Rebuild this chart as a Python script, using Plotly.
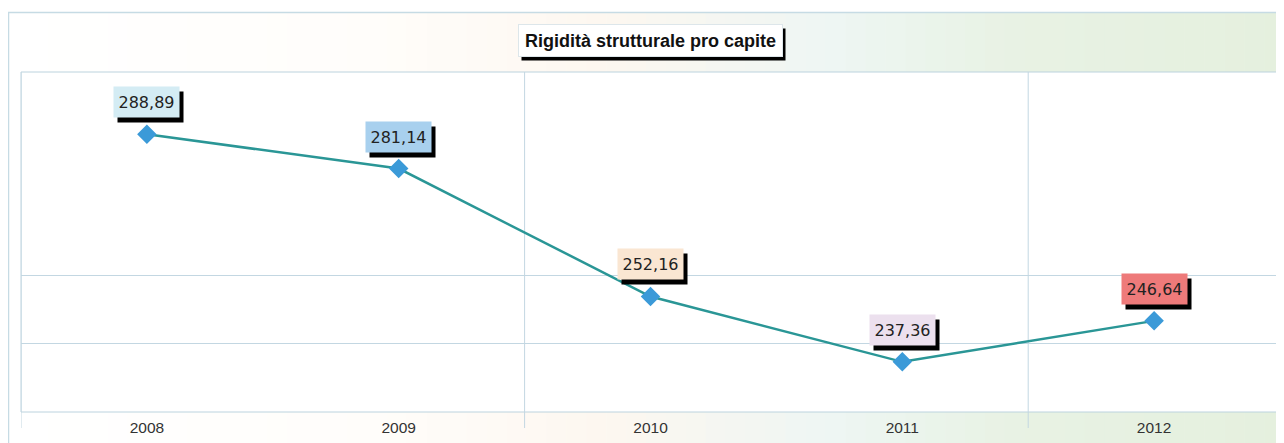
import plotly.graph_objects as go

# ---- data ----
years = ["2008", "2009", "2010", "2011", "2012"]
values = [288.89, 281.14, 252.16, 237.36, 246.64]
label_colors = ["#d4ecf4", "#a8d0ee", "#fae6d2", "#ece0ee", "#ee7a7a"]
title_text = "Rigidità strutturale pro capite"

OFF = 8  # page body margin
W, H = 1284 - OFF, 443 - OFF
# plot area in reference pixel coords
PL, PR, PT, PB = 21, 1280, 72, 412
ML, MR, MT, MB = PL - OFF, W - (PR - OFF), PT - OFF, H - (PB - OFF)
PW, PH = PR - PL, PB - PT


def px2x(px):
    return (px - PL) / PW


def py2y(py):
    return (PB - py) / PH


def hex2rgb(h):
    h = h.lstrip("#")
    return tuple(int(h[i:i + 2], 16) for i in (0, 2, 4))


def lerp_color(stops, px):
    for (x0, c0), (x1, c1) in zip(stops, stops[1:]):
        if x0 <= px <= x1:
            t = (px - x0) / (x1 - x0) if x1 > x0 else 0
            a, b = hex2rgb(c0), hex2rgb(c1)
            r = [round(a[i] + (b[i] - a[i]) * t) for i in range(3)]
            return "rgb(%d,%d,%d)" % tuple(r)
    return stops[-1][1]


fig = go.Figure()

fig.add_trace(go.Scatter(
    x=years, y=values, mode="lines+markers",
    line=dict(color="#2a9696", width=2.5),
    marker=dict(symbol="diamond", size=15, color="#3b9ad8",
                line=dict(width=0)),
    hoverinfo="skip", showlegend=False,
))

shapes = []
# background gradient strips for outer frame
stops = [(8, "#ffffff"), (380, "#fffdfa"), (600, "#fdf7f0"),
         (830, "#eef6f3"), (1010, "#e8f2e4"), (1284, "#e5f0de")]
n = 64
x_start, x_end = 8, 1284
step = (x_end - x_start) / n
for i in range(n):
    a = x_start + i * step
    b = a + step + 0.6
    shapes.append(dict(type="rect", xref="paper", yref="paper", layer="below",
                       x0=px2x(a), x1=px2x(b), y0=py2y(443), y1=py2y(12),
                       fillcolor=lerp_color(stops, a + step / 2),
                       line=dict(width=0)))
# outer frame border lines
shapes.append(dict(type="line", xref="paper", yref="paper", layer="below",
                   x0=px2x(8), x1=px2x(1284), y0=py2y(12.5), y1=py2y(12.5),
                   line=dict(color="#c6dbe4", width=1.5)))
shapes.append(dict(type="line", xref="paper", yref="paper", layer="below",
                   x0=px2x(8.5), x1=px2x(8.5), y0=py2y(12), y1=py2y(443),
                   line=dict(color="#c6dbe4", width=1.5)))
# plot area white
shapes.append(dict(type="rect", xref="paper", yref="paper", layer="below",
                   x0=0, x1=1, y0=0, y1=1, fillcolor="#ffffff",
                   line=dict(color="#bcd3de", width=1)))
# vertical grid lines (extend below axis)
for xv in [-0.5, 1.5, 3.5]:
    shapes.append(dict(type="line", xref="x", yref="paper", layer="below",
                       x0=xv, x1=xv, y0=py2y(428), y1=1,
                       line=dict(color="#c3d7e2", width=1)))

fig.update_layout(shapes=shapes)

annotations = []
# title box with shadow
tx, ty = px2x(650), py2y(40.5)
FONT = "Liberation Sans, Arial"
LFONT = "DejaVu Sans"
annotations.append(dict(xref="paper", yref="paper", x=tx, y=ty, xshift=3, yshift=-4,
                        xanchor="center", yanchor="middle",
                        text=" ", showarrow=False,
                        font=dict(family=FONT, size=18, color="#000000"),
                        bgcolor="#000000", width=263, height=31, borderpad=0))
annotations.append(dict(xref="paper", yref="paper", x=tx, y=ty,
                        xanchor="center", yanchor="middle",
                        text="<b>" + title_text + "</b>", showarrow=False,
                        font=dict(family=FONT, size=18, color="#111111"),
                        bgcolor="#ffffff", bordercolor="#dde6ea", borderwidth=1,
                        width=263, height=31, borderpad=0))
# value labels (category index positions)
for i, (v, c) in enumerate(zip(values, label_colors)):
    txt = ("%.2f" % v).replace(".", ",")
    annotations.append(dict(x=i, y=v, xref="x", yref="y", yshift=32 - 5, xshift=4,
                            text=" ", showarrow=False,
                            font=dict(family=LFONT, size=16, color="#000000"),
                            bgcolor="#000000", width=59, height=24, borderpad=3))
    annotations.append(dict(x=i, y=v, xref="x", yref="y", yshift=32,
                            text=txt, showarrow=False,
                            font=dict(family=LFONT, size=16, color="#222222"),
                            bgcolor=c, width=59, height=24, borderpad=3))

fig.update_layout(
    width=W, height=H,
    margin=dict(l=ML, r=MR, t=MT, b=MB, pad=0),
    paper_bgcolor="#ffffff", plot_bgcolor="#ffffff",
    annotations=annotations,
    xaxis=dict(type="category", range=[-0.5, 4.5], showgrid=False, zeroline=False,
               showline=False, ticks="", ticklabelstandoff=4,
               tickfont=dict(family=FONT, size=15.5, color="#333333")),
    yaxis=dict(range=[226.0, 303.0], tickvals=[241.44, 256.88], showticklabels=False,
               showgrid=True, gridcolor="#c3d7e2", gridwidth=1, zeroline=False,
               showline=False, ticks=""),
    showlegend=False,
)

fig.write_html("out.html")
